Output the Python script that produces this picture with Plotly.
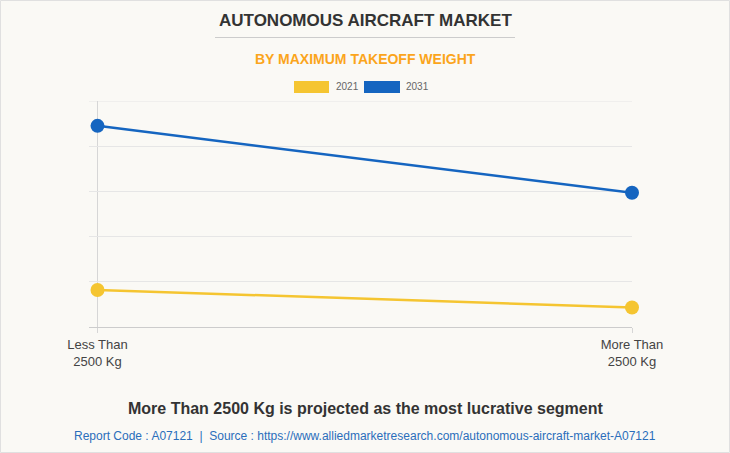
import plotly.graph_objects as go

categories = ["Less Than<br>2500 Kg", "More Than<br>2500 Kg"]
series_names = ["2021", "2031"]
values_2021 = [0.82, 0.43]
values_2031 = [4.45, 2.97]
colors = ["#F5C531", "#1565C0"]

W, H = 730, 453
L, R, T, B = 89, 98, 101, 126
pw = W - L - R
ph = H - T - B

def px(x):
    return (x - L) / pw

def py(y):
    return 1 - (y - T) / ph

fig = go.Figure()
for name, vals, col in zip(series_names, [values_2021, values_2031], colors):
    fig.add_trace(go.Scatter(
        x=[0, 1], y=vals, mode="lines+markers", name=name,
        line=dict(color=col, width=2.5),
        marker=dict(color=col, size=14),
        showlegend=False, cliponaxis=False,
    ))

font = "Liberation Sans, Arial, sans-serif"
annotations = [
    dict(text="<b>AUTONOMOUS AIRCRAFT MARKET</b>", x=px(365), y=py(21), xref="paper", yref="paper",
         showarrow=False, font=dict(family=font, size=17, color="#333333"), xanchor="center", yanchor="middle"),
    dict(text="<b>BY MAXIMUM TAKEOFF WEIGHT</b>", x=px(365), y=py(59), xref="paper", yref="paper",
         showarrow=False, font=dict(family=font, size=14, color="#FBA51C"), xanchor="center", yanchor="middle"),
    dict(text="<b>More Than 2500 Kg is projected as the most lucrative segment</b>", x=px(365), y=py(408),
         xref="paper", yref="paper", showarrow=False, font=dict(family=font, size=16, color="#333333"),
         xanchor="center", yanchor="middle"),
    dict(text="Report Code : A07121  |  Source : https://www.alliedmarketresearch.com/autonomous-aircraft-market-A07121",
         x=px(365), y=py(436), xref="paper", yref="paper", showarrow=False,
         font=dict(family=font, size=12, color="#2A6EBB"), xanchor="center", yanchor="middle"),
]
shapes = [
    dict(type="line", x0=px(215), x1=px(515), y0=py(37.5), y1=py(37.5), xref="paper", yref="paper",
         line=dict(color="#CCCCCC", width=1)),
    dict(type="rect", x0=px(0.5), x1=px(729.5), y0=py(0.5), y1=py(452.5), xref="paper", yref="paper",
         line=dict(color="#E0E0E0", width=1)),
    dict(type="line", x0=0, x1=1, y0=5, y1=5, xref="paper", yref="y", layer="below",
         line=dict(color="#E6E6E6", width=1)),
]
legend_pos = [(294, 329, 334), (364, 400, 404)]
for (x0, x1, tx), name, col in zip(legend_pos, series_names, colors):
    shapes.append(dict(type="rect", x0=px(x0), x1=px(x1), y0=py(81), y1=py(93), xref="paper", yref="paper",
                       fillcolor=col, line=dict(width=0)))
    annotations.append(dict(text=name, x=px(tx), y=py(87), xref="paper", yref="paper", showarrow=False,
                            xanchor="left", yanchor="middle", font=dict(family=font, size=10, color="#666666")))

a = 8.5 / (pw - 8.5)
fig.update_layout(
    width=W, height=H,
    margin=dict(l=L, r=R, t=T, b=B),
    paper_bgcolor="#FAF9F5", plot_bgcolor="#FAF9F5",
    font=dict(family=font),
    xaxis=dict(range=[-a, 1], tickvals=[0, 1], ticktext=categories, showgrid=True,
               gridcolor="#D6D6D6", gridwidth=1, zeroline=False, showline=True, linecolor="#CCCCCC",
               ticks="outside", ticklen=5, tickcolor="#D6D6D6",
               tickfont=dict(size=13, color="#444444"), fixedrange=True),
    yaxis=dict(range=[0, 5], dtick=1, showticklabels=False, showgrid=True, gridcolor="#E6E6E6",
               zeroline=False, showline=False, ticks="", fixedrange=True),
    annotations=annotations, shapes=shapes,
)
fig.write_html("out.html")
